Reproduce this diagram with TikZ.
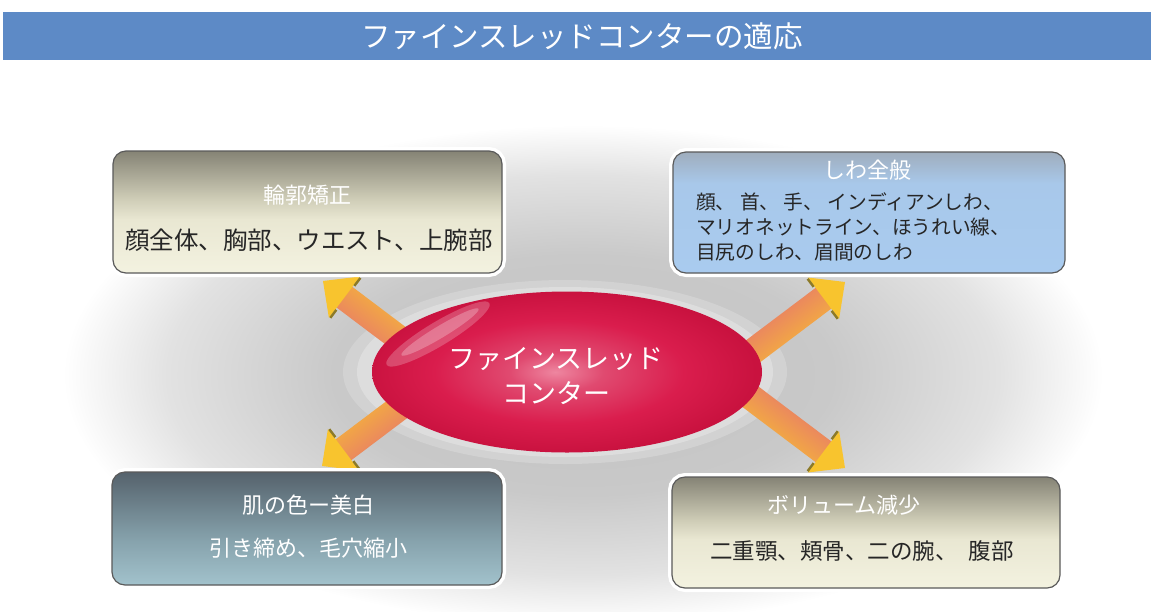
\documentclass[tikz,border=0pt]{standalone}
\usepackage{fontspec}
\setmainfont{Noto Sans CJK JP}
\usetikzlibrary{calc,shapes.geometric}
\definecolor{barblue}{HTML}{5D8AC6}
\definecolor{blobA}{HTML}{C2C2C2}
\definecolor{blobB}{HTML}{C9C9C9}
\definecolor{blobC}{HTML}{E2E2E2}
\definecolor{haloA}{HTML}{D2D2D2}
\definecolor{haloB}{HTML}{DDDDDD}
\definecolor{redA}{HTML}{EE86A0}
\definecolor{redB}{HTML}{E04A70}
\definecolor{redC}{HTML}{DA1D4D}
\definecolor{redD}{HTML}{C9123F}
\definecolor{arrtip}{HTML}{F8C42E}
\definecolor{arrmid}{HTML}{F4A848}
\definecolor{arrbase}{HTML}{E46A76}
\definecolor{arrdark}{HTML}{8C7A28}
\definecolor{olA}{HTML}{F3F2E0}
\definecolor{olB}{HTML}{E9E7D2}
\definecolor{olC}{HTML}{D0CEB8}
\definecolor{olD}{HTML}{858375}
\definecolor{blA}{HTML}{A9CBEF}
\definecolor{blB}{HTML}{A8C8EA}
\definecolor{blC}{HTML}{9FADBD}
\definecolor{slA}{HTML}{A2C2CC}
\definecolor{slB}{HTML}{86A2AC}
\definecolor{slC}{HTML}{55626C}
\definecolor{boxedge}{HTML}{5A5A5A}
\definecolor{darktext}{HTML}{262626}
\pgfdeclareradialshading{fcblob}{\pgfpoint{0bp}{0bp}}{color(0bp)=(blobA); color(12bp)=(blobB); color(20bp)=(blobC); color(25bp)=(white); color(50bp)=(white)}
\pgfdeclareradialshading{fcred}{\pgfpoint{-1.5bp}{0bp}}{color(0bp)=(redA); color(6bp)=(redB); color(16bp)=(redC); color(25bp)=(redD); color(50bp)=(redD)}
\pgfdeclareverticalshading{fcolive}{100bp}{color(0bp)=(olA); color(25bp)=(olA); color(47bp)=(olB); color(55bp)=(olC); color(75bp)=(olD); color(100bp)=(olD)}
\pgfdeclareverticalshading{fcblue}{100bp}{color(0bp)=(blA); color(25bp)=(blA); color(62bp)=(blB); color(75bp)=(blC); color(100bp)=(blC)}
\pgfdeclareverticalshading{fcslate}{100bp}{color(0bp)=(slA); color(25bp)=(slA); color(45bp)=(slB); color(75bp)=(slC); color(100bp)=(slC)}
\tikzset{
  boxbase/.style={rectangle, rounded corners=13pt, draw=boxedge, line width=1.2pt, inner sep=0pt, shade,
    preaction={draw=white, line width=8pt}},
  headtext/.style={text=white, inner sep=0pt, font=\fontsize{22}{26}\selectfont},
  bodytext/.style={text=darktext, inner sep=0pt, font=\fontsize{24.5}{30}\selectfont},
}
\newcommand\fcarrow[2]{%
  \shade[left color=arrbase, middle color=arrmid, right color=arrtip, shading angle=#2]
    ($(#1)+(#2+180:24pt)+(#2+270:13pt)$)
    -- ($(#1)+(#2+180:120pt)+(#2+270:13pt)$) -- ($(#1)+(#2+180:120pt)+(#2+90:13pt)$)
    -- ($(#1)+(#2+180:24pt)+(#2+90:13pt)$) -- cycle;
  \fill[arrtip]
    (#1) -- ($(#1)+(#2+180:27pt)+(#2+270:26pt)$) -- ($(#1)+(#2+180:27pt)+(#2+90:26pt)$) -- cycle;
  \draw[arrdark, line width=2.4pt] ($(#1)+(#2+180:28pt)+(#2+270:25pt)$) -- ($(#1)+(#2+180:28pt)+(#2+270:15pt)$);
  \draw[arrdark, line width=2.4pt] ($(#1)+(#2+180:28pt)+(#2+90:25pt)$) -- ($(#1)+(#2+180:28pt)+(#2+90:15pt)$);
}
\begin{document}
\begin{tikzpicture}[x=1pt, y=-1pt]
\useasboundingbox (0,0) rectangle (1156,611);
\fill[white] (0,0) rectangle (1156,611);
% title bar
\node[fill=barblue, minimum width=1148pt, minimum height=48pt, inner sep=0pt, text=white,
  font=\fontsize{29.5}{31}\selectfont] (title) at (577,36) {\makebox[0pt]{\hspace{10pt}ファインスレッドコンターの適応}};
% soft grey background
\shade[shading=fcblob] (583,375) ellipse [x radius=520pt, y radius=250pt];
% halo
\fill[haloA] (565,372) ellipse [x radius=222pt, y radius=92pt];
\fill[haloB] (565,372) ellipse [x radius=208pt, y radius=85pt];
% arrows
\coordinate (tipTL) at (323,281);
\coordinate (tipTR) at (845,282);
\coordinate (tipBL) at (322,466);
\coordinate (tipBR) at (845,468);
\fcarrow{tipTL}{143}
\fcarrow{tipTR}{37}
\fcarrow{tipBL}{217}
\fcarrow{tipBR}{-37}
% core ellipse
\node[ellipse, shade, shading=fcred, minimum width=390pt, minimum height=161pt, inner sep=0pt] (core) at (567,372) {};
\fill[white, fill opacity=0.22, rotate around={31:(438,334)}] (438,334) ellipse [x radius=60pt, y radius=12pt];
\fill[white, fill opacity=0.25, rotate around={31:(440,332)}] (440,332) ellipse [x radius=45pt, y radius=6pt];
\node[text=white, align=center, inner sep=0pt, font=\fontsize{27}{35}\selectfont] (coretext) at (556,376) {ファインスレッド\\コンター};
% boxes
\node[boxbase, shading=fcolive, minimum width=389pt, minimum height=122pt] (tl) at (307.5,212) {};
\node[boxbase, shading=fcblue, minimum width=392pt, minimum height=121pt] (tr) at (869,212.5) {};
\node[boxbase, shading=fcslate, minimum width=390pt, minimum height=113pt] (bl) at (307,528.5) {};
\node[boxbase, shading=fcolive, minimum width=388pt, minimum height=111pt] (br) at (866,532.5) {};
% texts
\node[headtext] (tlhead) at (307,195) {輪郭矯正};
\node[bodytext] (tlbody) at (309,240) {顔全体、胸部、ウエスト、上腕部};
\node[headtext] (trhead) at (867,170) {しわ全般};
\node[text=darktext, inner sep=0pt, anchor=west, align=left, font=\fontsize{19.7}{25}\selectfont] (trbody) at (696,227)
  {顔、 首、 手、 インディアンしわ、\\マリオネットライン、ほうれい線、\\目尻のしわ、眉間のしわ};
\node[headtext] (blhead) at (308,505) {肌の色ー美白};
\node[headtext] (blbody) at (308,548) {引き締め、毛穴縮小};
\node[headtext] (brhead) at (844,505) {ボリューム減少};
\node[text=darktext, inner sep=0pt, font=\fontsize{22.5}{26}\selectfont] (brbody) at (862,551) {二重顎、頬骨、二の腕、\hspace{0.5em}腹部};
\end{tikzpicture}
\end{document}
